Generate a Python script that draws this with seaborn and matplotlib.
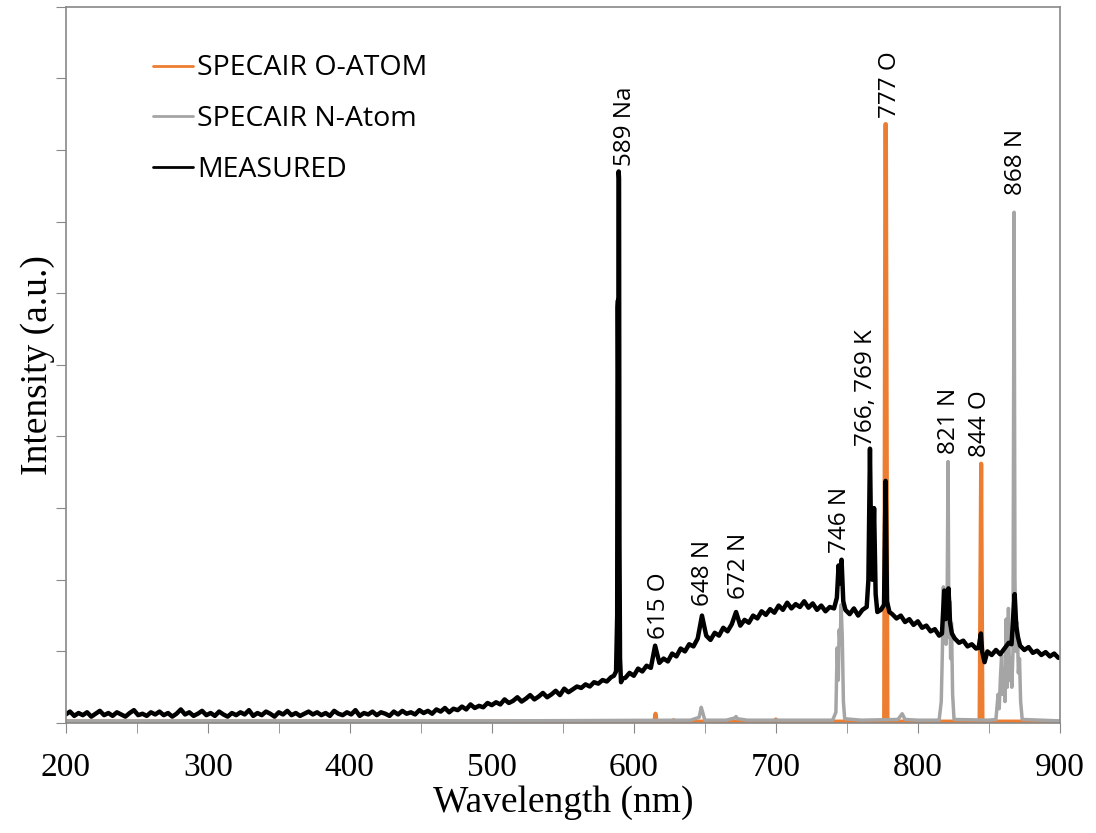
import numpy as np
import pandas as pd
import seaborn as sns
import matplotlib.pyplot as plt
from matplotlib.ticker import MultipleLocator

# --- measured spectrum (intensity in a.u.) ---
grid_a_wl = np.arange(200, 585, 3)
grid_a_int = [0.12, 0.16, 0.10, 0.14, 0.11, 0.15, 0.09, 0.13, 0.17, 0.11, 0.14, 0.10, 0.15, 0.12, 0.09, 0.14, 0.18, 0.11, 0.13, 0.10, 0.15,
              0.12, 0.16, 0.11, 0.14, 0.09, 0.13, 0.19, 0.12, 0.15, 0.10, 0.13, 0.17, 0.11, 0.14, 0.10, 0.16, 0.12, 0.09, 0.14, 0.11,
              0.15, 0.12, 0.18, 0.10, 0.14, 0.11, 0.16, 0.13, 0.09, 0.15, 0.12, 0.17, 0.11, 0.14, 0.10, 0.13, 0.16, 0.12, 0.15, 0.11,
              0.14, 0.10, 0.17, 0.13, 0.11, 0.15, 0.12, 0.18, 0.10, 0.14, 0.12, 0.16, 0.11, 0.15, 0.13, 0.10, 0.16, 0.12, 0.17, 0.13,
              0.15, 0.12, 0.18, 0.14, 0.17, 0.13, 0.19, 0.16, 0.21, 0.15, 0.20, 0.18, 0.23, 0.19, 0.26, 0.21, 0.24, 0.22, 0.28, 0.25,
              0.29, 0.26, 0.33, 0.28, 0.31, 0.36, 0.30, 0.34, 0.39, 0.33, 0.37, 0.42, 0.36, 0.40, 0.45, 0.39, 0.48, 0.43, 0.47, 0.51,
              0.49, 0.54, 0.51, 0.57, 0.55, 0.60, 0.58, 0.64]
na_wl = [586, 587.5, 588.3, 588.6, 588.85, 589.1, 589.35, 589.6, 589.9, 590.3, 591.0, 592.0]
na_int = [0.66, 0.72, 1.5, 5.8, 5.9, 4.5, 7.7, 7.6, 2.5, 0.9, 0.57, 0.62]
grid_b_wl = np.arange(594, 742, 3)
grid_b_int = [0.63, 0.70, 0.66, 0.76, 0.72, 0.80, 0.77, 1.08, 0.84, 0.90,
              0.86, 0.97, 0.93, 1.04, 1.00, 1.10, 1.07, 1.18, 1.50, 1.22,
              1.16, 1.26, 1.22, 1.33, 1.28, 1.38, 1.55, 1.36, 1.44, 1.40,
              1.50, 1.46, 1.56, 1.51, 1.59, 1.54, 1.64, 1.58, 1.68, 1.60,
              1.66, 1.62, 1.70, 1.61, 1.67, 1.58, 1.64, 1.56, 1.62, 1.60]
k_wl = [743, 744.2, 745.0, 746.3, 747.5, 749, 752, 755, 758, 761, 764, 765.2, 766.3, 767.3, 768.0, 769.2,
        770.3, 771.5, 774, 776.2, 777.3, 778.3, 780]
k_int = [1.75, 2.2, 1.95, 2.28, 1.7, 1.58, 1.52, 1.60, 1.50, 1.58, 1.62, 2.0, 3.83, 2.2, 2.0, 3.0,
         1.8, 1.55, 1.58, 1.65, 3.38, 1.7, 1.55]
grid_c_wl = np.arange(782, 816, 3)
grid_c_int = [1.52, 1.46, 1.50, 1.41, 1.45, 1.37, 1.42, 1.33, 1.36, 1.28, 1.31, 1.22]
n821_wl = [817, 818.6, 819.6, 820.5, 821.6, 822.7, 824]
n821_int = [1.25, 1.85, 1.45, 1.6, 1.88, 1.4, 1.25]
grid_d_wl = np.arange(826, 842, 3)
grid_d_int = [1.18, 1.12, 1.15, 1.07, 1.10, 1.04]
o844_wl = [842.8, 844.4, 845.3, 847]
o844_int = [1.05, 1.25, 1.0, 0.85]
grid_e_wl = np.arange(849, 865, 3)
grid_e_int = [1.0, 0.95, 1.02, 0.96, 1.04, 1.12]
n868_wl = [866, 867.2, 868.2, 869.3, 870.5]
n868_int = [1.1, 1.5, 1.8, 1.35, 1.2]
grid_f_wl = np.arange(872, 901, 3)
grid_f_int = [1.08, 1.02, 1.06, 0.98, 1.01, 0.95, 0.99, 0.93, 0.97, 0.91]

measured_wl = np.concatenate([grid_a_wl, na_wl, grid_b_wl, k_wl, grid_c_wl, n821_wl,
                              grid_d_wl, o844_wl, grid_e_wl, n868_wl, grid_f_wl])
measured_int = np.concatenate([grid_a_int, na_int, grid_b_int, k_int, grid_c_int, n821_int,
                               grid_d_int, o844_int, grid_e_int, n868_int, grid_f_int])

# --- SPECAIR N-atom ---
n_wl = [200, 500, 640, 646, 647.5, 648.5, 650, 665, 671, 672, 673, 680,
        740, 742.3, 743.2, 744.0, 744.6, 745.3, 746.0, 746.8, 747.6, 748.5, 760, 786, 789, 791, 800,
        815, 816.5, 817.3, 818.0, 818.6, 819.2, 819.9, 820.6, 821.3, 821.9, 822.5, 823.1, 823.7, 824.5, 825.5,
        850, 855, 856.5, 857.3, 858.2, 859.0, 859.8, 860.6, 861.4, 862.2, 863.0, 863.8, 864.6, 865.4,
        866.2, 867.0, 867.8, 868.4, 869.2, 870.0, 870.8, 871.6, 872.4, 873.5, 900]
n_int = [0.03, 0.03, 0.04, 0.08, 0.22, 0.15, 0.04, 0.04, 0.07, 0.09, 0.06, 0.04,
         0.04, 0.15, 1.05, 0.6, 1.3, 1.1, 1.65, 1.2, 0.3, 0.06, 0.04, 0.05, 0.13, 0.05, 0.04,
         0.04, 0.3, 1.0, 1.9, 1.3, 1.85, 1.1, 1.6, 3.65, 1.2, 1.7, 0.9, 1.4, 0.4, 0.05,
         0.04, 0.05, 0.4, 0.2, 0.65, 0.95, 0.4, 0.7, 0.3, 1.45, 0.5, 1.6, 0.6, 0.9,
         0.5, 1.0, 7.13, 2.0, 1.0, 1.4, 0.7, 0.9, 0.3, 0.05, 0.03]

# --- SPECAIR O-atom ---
o_wl = [200, 600, 614.5, 615.3, 616, 627, 628, 629, 699, 700, 701, 776.3, 777.2, 777.5, 778.6,
        843.5, 844.6, 845.5, 900]
o_int = [0.02, 0.02, 0.02, 0.13, 0.02, 0.02, 0.04, 0.02, 0.02, 0.05, 0.02, 0.02, 8.36, 8.36, 0.02,
         0.02, 3.62, 0.02, 0.02]

# --- peak labels ---
label_text = ["589 Na", "615 O", "648 N", "672 N", "746 N", "766, 769 K", "777 O", "821 N", "844 O", "868 N"]
label_x = [593.7, 617.6, 648.6, 674.0, 745.0, 763.4, 780.3, 821.8, 843.7, 869.0]
label_y = [7.77, 1.18, 1.63, 1.73, 2.37, 3.87, 8.45, 3.76, 3.72, 7.37]

sns.set_style("ticks")
plt.rcParams['font.family'] = ['Open Sans', 'DejaVu Sans']

fig = plt.figure(figsize=(10.96, 8.33), dpi=100)
ax = fig.add_axes([0.060, 0.132, 0.907, 0.860])

o_df = pd.DataFrame({"wl": o_wl, "val": o_int})
n_df = pd.DataFrame({"wl": n_wl, "val": n_int})
m_df = pd.DataFrame({"wl": measured_wl, "val": measured_int})

sns.lineplot(data=o_df, x="wl", y="val", ax=ax, color="#ED7D31", lw=3, estimator=None, label="SPECAIR O-ATOM")
sns.lineplot(data=n_df, x="wl", y="val", ax=ax, color="#A5A5A5", lw=2.5, estimator=None, label="SPECAIR N-Atom")
sns.lineplot(data=m_df, x="wl", y="val", ax=ax, color="black", lw=3.2, estimator=None, label="MEASURED")

for txt, x, y in zip(label_text, label_x, label_y):
    ax.text(x, y, txt, rotation=90, ha="center", va="bottom", fontsize=17.5, color="black")

ax.set_xlim(200, 900)
ax.set_ylim(0, 10)
ax.xaxis.set_major_locator(MultipleLocator(100))
ax.xaxis.set_minor_locator(MultipleLocator(50))
ax.yaxis.set_major_locator(MultipleLocator(1))
ax.set_yticklabels([])
ax.tick_params(axis="x", which="both", length=7, color="#888888", labelsize=24, pad=14, labelcolor="black")
ax.tick_params(axis="y", length=7, color="#888888")
for lbl in ax.get_xticklabels():
    lbl.set_family("Liberation Serif")
for sp in ax.spines.values():
    sp.set_color("#888888")
    sp.set_linewidth(1.2)

ax.set_xlabel("Wavelength (nm)", family="Liberation Serif", fontsize=27, labelpad=2, color="black")
ax.set_ylabel("Intensity (a.u.)", family="Liberation Serif", fontsize=27, labelpad=-3, color="black")

leg = ax.legend(loc="upper left", bbox_to_anchor=(0.062, 0.969), frameon=False, fontsize=20.5,
                handlelength=1.4, handletextpad=0.14, labelspacing=0.8)
for t in leg.get_texts():
    t.set_color("black")
for h in leg.legend_handles:
    h.set_linewidth(2)

plt.savefig("out.png", dpi=100)
